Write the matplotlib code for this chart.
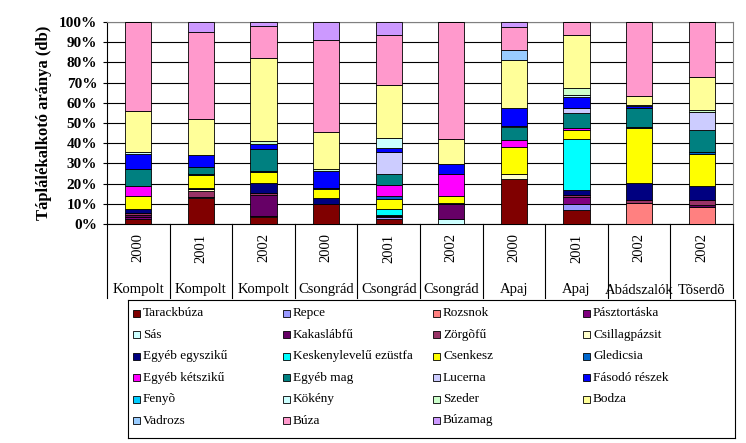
import matplotlib
matplotlib.use("Agg")
import matplotlib.pyplot as plt
from matplotlib.patches import Rectangle
import numpy as np

years = ["2000", "2001", "2002", "2000", "2001", "2002", "2000", "2001", "2002", "2002"]
sites = ["Kompolt", "Kompolt", "Kompolt", "Csongrád", "Csongrád", "Csongrád",
         "Apaj", "Apaj", "Abádszalók", "Tõserdõ"]

tarackbuza = [2.3, 12.7, 3.3, 9.9, 2.3, 0, 22.1, 6.9, 0, 0]
repce = [0, 0.8, 0, 0, 1.0, 0, 0, 3.2, 0, 0]
rozsnok = [0, 0, 0.8, 0, 0, 0, 0, 0, 10.6, 8.6]
pasztortaska = [1.0, 0, 0, 0, 0, 0, 0, 3.2, 0, 0]
sas = [0, 0, 0, 0, 0, 2.3, 0, 0, 0, 0]
kakaslabfu = [1.2, 0, 10.2, 0, 0, 7.7, 0, 0, 0, 0.8]
zorgofu = [1.0, 2.8, 0.9, 0, 0.8, 0, 0, 1.2, 1.4, 2.6]
csillagpazsit = [0, 1.0, 0, 0, 0, 0, 2.6, 0, 0, 0]
egyeb_egyszikű = [1.8, 0.4, 4.9, 2.8, 0.6, 0.6, 0, 2.2, 8.5, 7.0]
keskenylevelu = [0, 0, 0, 0, 2.6, 0, 0, 25.3, 0, 0]
csenkesz = [6.7, 6.5, 5.8, 4.8, 5.0, 3.2, 13.4, 4.6, 27.0, 15.8]
gledicsia = [0, 0.8, 0.5, 0.5, 1.5, 0, 0, 0, 0.3, 0.6]
egyeb_ketsziku = [5.0, 0, 0, 0, 5.5, 11.0, 3.3, 1.0, 0, 0]
egyeb_mag = [8.0, 3.3, 10.6, 0, 5.7, 0, 6.4, 7.4, 9.7, 11.0]
lucerna = [0, 0, 0, 0, 10.5, 0, 0.8, 2.2, 0, 8.8]
fasodo = [7.5, 5.8, 2.6, 8.0, 2.2, 4.7, 8.8, 5.8, 0.8, 0]
fenyo = [0, 0, 0, 0, 0, 0, 0, 0, 0, 0]
kokeny = [1.0, 0, 0, 0, 5.0, 0, 0, 1.0, 0, 0]
szeder = [0, 0, 1.7, 1.0, 0, 0, 0, 3.2, 0.5, 1.3]
bodza = [20.5, 17.9, 41.0, 18.3, 26.3, 12.5, 23.6, 26.2, 4.7, 16.5]
vadrozs = [0, 0, 0, 0, 0, 0, 5.3, 0, 0, 0]
buza = [44.0, 43.0, 15.7, 45.7, 24.4, 58.0, 11.2, 6.6, 36.5, 27.0]
buzamag = [0, 5.0, 2.0, 9.0, 6.6, 0, 2.5, 0, 0, 0]

series_names = ["Tarackbúza", "Repce", "Rozsnok", "Pásztortáska", "Sás", "Kakaslábfű",
                "Zörgõfű", "Csillagpázsit", "Egyéb egyszikű", "Keskenylevelű ezüstfa",
                "Csenkesz", "Gledicsia", "Egyéb kétszikű", "Egyéb mag", "Lucerna",
                "Fásodó részek", "Fenyõ", "Kökény", "Szeder", "Bodza", "Vadrozs",
                "Búza", "Búzamag"]
series_values = [tarackbuza, repce, rozsnok, pasztortaska, sas, kakaslabfu, zorgofu,
                 csillagpazsit, egyeb_egyszikű, keskenylevelu, csenkesz, gledicsia,
                 egyeb_ketsziku, egyeb_mag, lucerna, fasodo, fenyo, kokeny, szeder,
                 bodza, vadrozs, buza, buzamag]
colors = ["#800000", "#9999FF", "#FF8080", "#800080", "#CCFFFF", "#660066",
          "#993366", "#FFFFCC", "#000080", "#00FFFF", "#FFFF00", "#0066CC",
          "#FF00FF", "#008080", "#CCCCFF", "#0000FF", "#00CCFF", "#CCFFFF",
          "#CCFFCC", "#FFFF99", "#99CCFF", "#FF99CC", "#CC99FF"]

SERIF = ["Liberation Serif", "DejaVu Serif"]
plt.rcParams["font.family"] = SERIF

W, H = 746, 443
fig = plt.figure(figsize=(W / 100, H / 100), dpi=100)

def px_axes(l, t, r, b):
    return [l / W, 1 - b / H, (r - l) / W, (b - t) / H]

ax = fig.add_axes(px_axes(107, 22, 733, 224))

vals = np.array(series_values, dtype=float)
totals = vals.sum(axis=0)
pct = vals / totals * 100
x = np.arange(len(years))
bottom = np.zeros(len(years))
for name, v, c in zip(series_names, pct, colors):
    ax.bar(x, v, bottom=bottom, width=0.42, color=c, edgecolor="black",
           linewidth=0.6, zorder=3, label=name)
    bottom += v

ax.set_xlim(-0.5, len(years) - 0.5)
ax.set_ylim(0, 100)
ax.set_yticks(np.arange(0, 101, 10))
ax.set_yticklabels([f"{t}%" for t in range(0, 101, 10)], fontweight="bold", fontsize=11)
ax.yaxis.grid(True, color="black", linewidth=0.8, zorder=0)
ax.set_axisbelow(True)
ax.tick_params(axis="y", length=3, width=0.8, color="black", pad=4)
ax.set_xticks([])
for s in ["left", "bottom"]:
    ax.spines[s].set_color("black")
    ax.spines[s].set_linewidth(0.8)
for s in ["top", "right"]:
    ax.spines[s].set_color("#808080")
    ax.spines[s].set_linewidth(0.8)

ax.set_ylabel("Táplálékalkotó aránya (db)", fontweight="bold", fontsize=12, labelpad=5)

# category table below axis
trans = ax.get_xaxis_transform()
depth = -(298 - 224) / 202
for b in np.arange(-0.5, len(years), 1.0):
    ax.plot([b, b], [0, depth], color="black", linewidth=0.8, transform=trans,
            clip_on=False)
for i, (yr, st) in enumerate(zip(years, sites)):
    ax.text(i, -(248 - 224) / 202, yr, rotation=90, ha="center", va="center",
            fontsize=10.5, transform=trans)
    ax.text(i, -(290 - 224) / 202, st, ha="center", va="center",
            fontsize=10.5, transform=trans)

# legend (row-major, like the original)
lax = fig.add_axes(px_axes(128, 300, 735, 438))
lax.set_xlim(128, 735)
lax.set_ylim(438, 300)
lax.set_xticks([])
lax.set_yticks([])
for s in lax.spines.values():
    s.set_color("black")
    s.set_linewidth(0.8)
ncol = 4
for i, (name, c) in enumerate(zip(series_names, colors)):
    r, col = divmod(i, ncol)
    mx = 133 + col * 150
    my = 313 + r * 21.5
    lax.add_patch(Rectangle((mx, my - 3.5), 7, 7, facecolor=c, edgecolor="black",
                            linewidth=0.6))
    lax.text(mx + 10, my, name, va="center", ha="left", fontsize=9.5)

fig.savefig("out.png", dpi=100)
